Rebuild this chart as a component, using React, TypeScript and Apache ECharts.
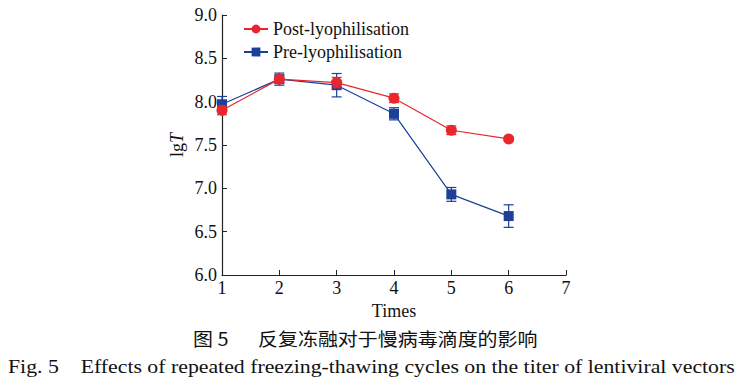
import React, { useEffect, useRef } from "react";
import * as echarts from "echarts";

const times = [1, 2, 3, 4, 5, 6];
const postMean = [7.9, 8.26, 8.22, 8.04, 7.67, 7.57];
const postErr = [0.05, 0.04, 0.06, 0.05, 0.05, 0.02];
const preMean = [7.97, 8.26, 8.19, 7.86, 6.93, 6.68];
const preErr = [0.09, 0.07, 0.135, 0.07, 0.08, 0.13];

const RED = "#e8262d";
const BLUE = "#1d3f9a";
const SERIF = "'Liberation Serif', 'Times New Roman', serif";

function errData(mean: number[], err: number[]) {
  return times.map((t, i) => [t, mean[i] - err[i], mean[i] + err[i]]);
}

function errSeries(name: string, mean: number[], err: number[], color: string, z: number) {
  return {
    type: "custom",
    name: name + "-err",
    z,
    silent: true,
    data: errData(mean, err),
    renderItem: (params: any, api: any) => {
      const x = api.value(0);
      const lo = api.coord([x, api.value(1)]);
      const hi = api.coord([x, api.value(2)]);
      const w = 5;
      const style = { stroke: color, lineWidth: 1.2 };
      return {
        type: "group",
        children: [
          { type: "line", shape: { x1: lo[0], y1: lo[1], x2: hi[0], y2: hi[1] }, style },
          { type: "line", shape: { x1: lo[0] - w, y1: lo[1], x2: lo[0] + w, y2: lo[1] }, style },
          { type: "line", shape: { x1: hi[0] - w, y1: hi[1], x2: hi[0] + w, y2: hi[1] }, style },
        ],
      };
    },
  };
}

export default function App() {
  const ref = useRef<HTMLDivElement>(null);
  useEffect(() => {
    const chart = echarts.init(ref.current!, undefined, { renderer: "svg" });
    chart.setOption({
      animation: false,
      grid: { left: 222, right: 177, top: 15, bottom: 110 },
      legend: {
        orient: "vertical",
        left: 243,
        top: 20,
        padding: 0,
        itemWidth: 24,
        itemHeight: 11,
        itemGap: 5,
        data: ["Post-lyophilisation", "Pre-lyophilisation"],
        textStyle: { fontFamily: SERIF, fontSize: 18, color: "#111", padding: [0, 0, 0, 0] },
      },
      xAxis: {
        type: "value",
        min: 1,
        max: 7,
        interval: 1,
        name: "Times",
        nameLocation: "middle",
        nameGap: 20,
        nameTextStyle: { fontFamily: SERIF, fontSize: 18, color: "#111" },
        axisLine: { lineStyle: { color: "#222", width: 1.2 } },
        axisTick: { inside: true, length: 5, lineStyle: { color: "#222" } },
        axisLabel: { fontFamily: SERIF, fontSize: 18, color: "#111", margin: 4 },
        splitLine: { show: false },
      },
      yAxis: {
        type: "value",
        min: 6,
        max: 9,
        interval: 0.5,
        name: "{a|lg}{b|T}",
        nameLocation: "middle",
        nameGap: 36,
        nameRotate: 90,
        nameTextStyle: {
          fontFamily: SERIF,
          fontSize: 18,
          color: "#111",
          rich: {
            a: { fontFamily: SERIF, fontSize: 18, color: "#111" },
            b: { fontFamily: SERIF, fontSize: 18, color: "#111", fontStyle: "italic" },
          },
        },
        axisLine: { show: true, lineStyle: { color: "#222", width: 1.2 } },
        axisTick: { show: true, inside: true, length: 5, lineStyle: { color: "#222" } },
        axisLabel: {
          fontFamily: SERIF,
          fontSize: 18,
          color: "#111",
          margin: 5,
          formatter: (v: number) => v.toFixed(1),
        },
        splitLine: { show: false },
      },
      graphic: [
        {
          type: "text",
          x: 193,
          y: 338,
          scaleX: 1.11,
          style: {
            text: "图 5",
            fontFamily: "'Noto Sans CJK SC', sans-serif",
            fontSize: 18,
            fill: "#111",
            align: "left",
            verticalAlign: "middle",
          },
        },
        {
          type: "text",
          x: 258,
          y: 338,
          scaleX: 1.11,
          style: {
            text: "反复冻融对于慢病毒滴度的影响",
            fontFamily: "'Noto Sans CJK SC', sans-serif",
            fontSize: 18,
            fill: "#111",
            align: "left",
            verticalAlign: "middle",
          },
        },
        {
          type: "text",
          x: 8,
          y: 366,
          scaleX: 1.147,
          style: {
            text: "Fig. 5    Effects of repeated freezing-thawing cycles on the titer of lentiviral vectors",
            fontFamily: SERIF,
            fontSize: 19,
            fill: "#111",
            align: "left",
            verticalAlign: "middle",
          },
        },
      ],
      series: [
        errSeries("Pre-lyophilisation", preMean, preErr, BLUE, 2),
        {
          type: "line",
          name: "Pre-lyophilisation",
          data: times.map((t, i) => [t, preMean[i]]),
          symbol: "rect",
          symbolSize: 10,
          color: BLUE,
          lineStyle: { color: BLUE, width: 1.2 },
          itemStyle: { color: BLUE },
          z: 3,
        },
        errSeries("Post-lyophilisation", postMean, postErr, RED, 4),
        {
          type: "line",
          name: "Post-lyophilisation",
          data: times.map((t, i) => [t, postMean[i]]),
          symbol: "circle",
          symbolSize: 11,
          color: RED,
          lineStyle: { color: RED, width: 1.2 },
          itemStyle: { color: RED },
          z: 5,
        },
      ],
    });
    return () => chart.dispose();
  }, []);
  return <div ref={ref} style={{ width: 743, height: 385, position: "absolute", left: 0, top: 0 }} />;
}
